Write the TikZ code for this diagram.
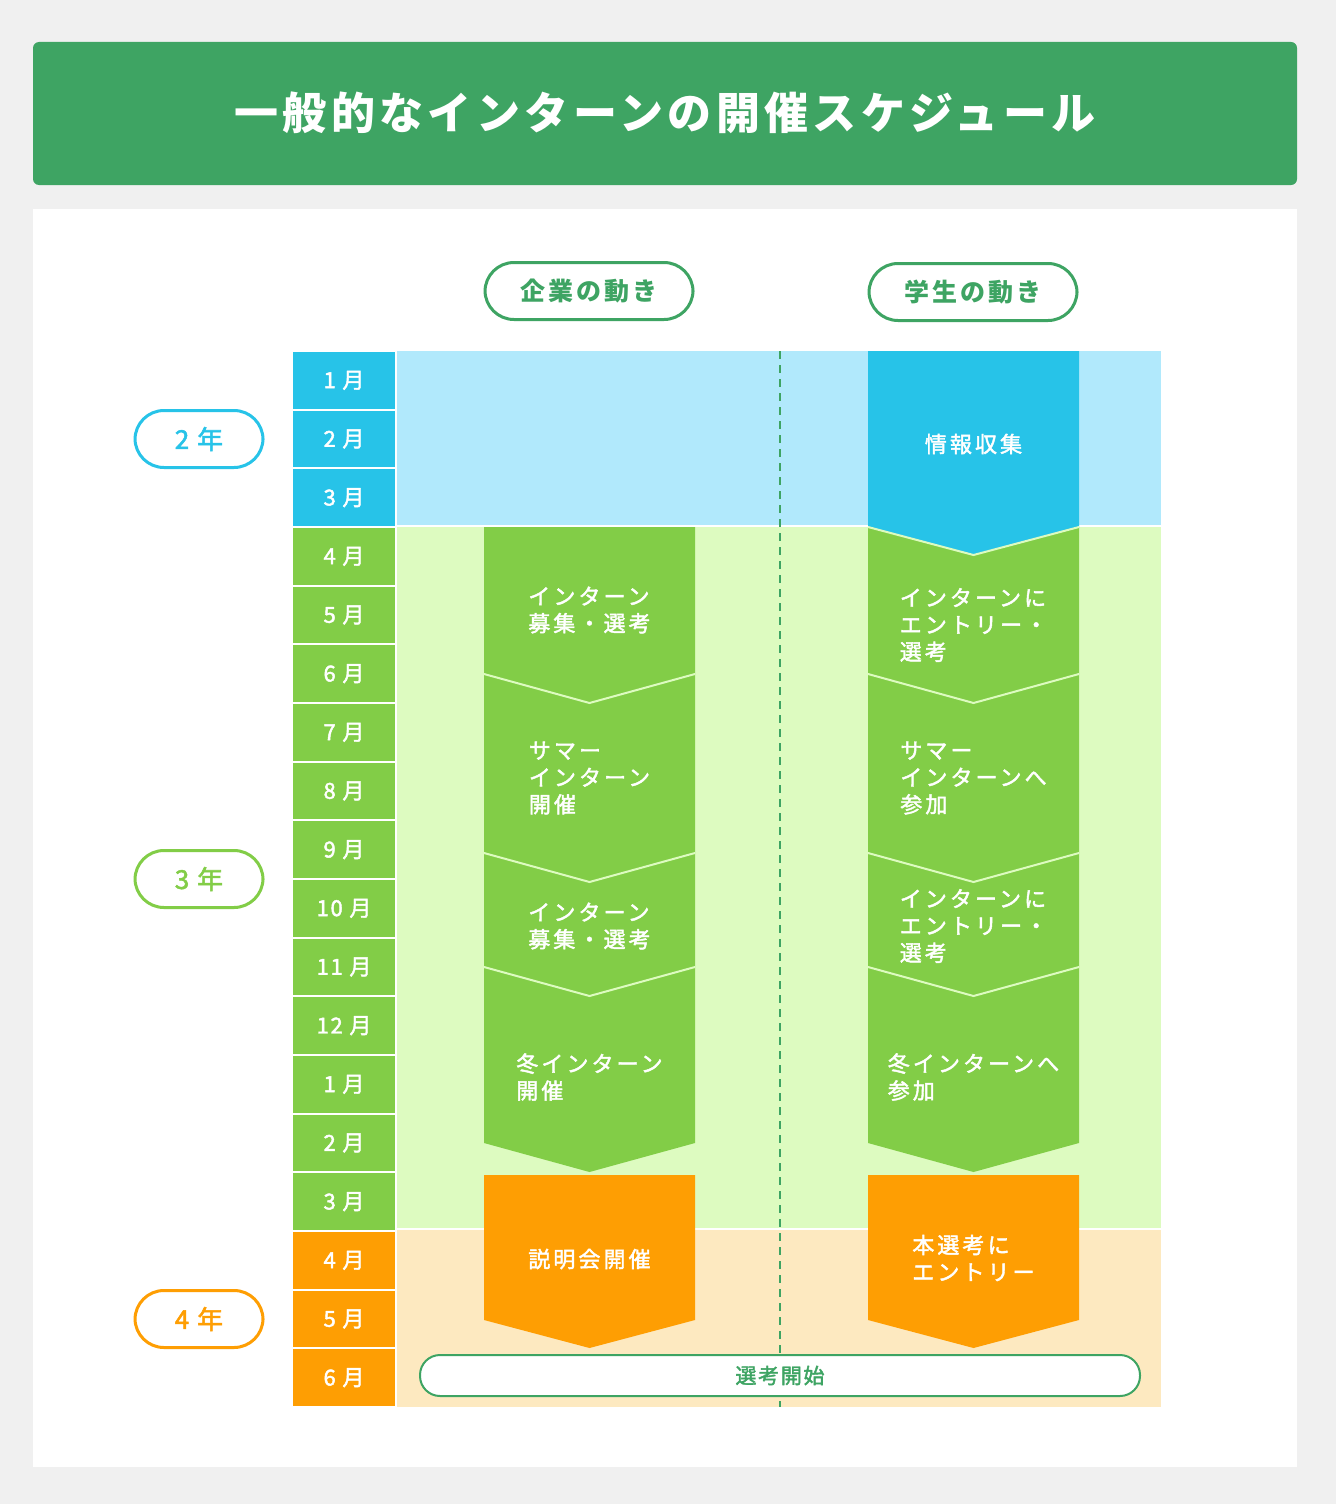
\documentclass[tikz,border=0pt]{standalone}
\usepackage{fontspec}
\setmainfont{Noto Sans CJK JP}
\newfontfamily\jpmed{Noto Sans CJK JP}[FakeBold=2]
\usetikzlibrary{positioning}
\definecolor{bggray}{HTML}{F0F0F0}
\definecolor{hgreen}{HTML}{3EA463}
\definecolor{cblue}{HTML}{27C3E8}
\definecolor{lblue}{HTML}{B1E9FC}
\definecolor{cgreen}{HTML}{82CD47}
\definecolor{lgreen}{HTML}{DDFBC0}
\definecolor{corange}{HTML}{FE9E03}
\definecolor{lorange}{HTML}{FDE9C0}

\begin{document}
\begin{tikzpicture}[x=1pt,y=-1pt,
mon/.style={minimum width=102pt,minimum height=56.7pt,inner sep=0pt,text=white,font=\jpmed\fontsize{22}{26}\selectfont\addfontfeature{LetterSpace=8}},
yr/.style={draw=#1,line width=3pt,fill=white,rounded corners=29pt,minimum width=128pt,minimum height=57pt,inner sep=0pt,text=#1,font=\jpmed\fontsize{26}{30}\selectfont\addfontfeature{LetterSpace=8}},
headpill/.style={draw=hgreen,line width=3pt,fill=white,rounded corners=29pt,minimum width=208pt,minimum height=57pt,inner sep=0pt,text=hgreen,font=\bfseries\fontsize{25}{30}\selectfont\addfontfeature{LetterSpace=12}},
lbl/.style={text=white,align=left,inner sep=0pt,font=\jpmed\fontsize{22}{27}\selectfont\addfontfeature{LetterSpace=14}},
sep/.style={draw=lgreen,line width=2pt}]
\useasboundingbox (0,0) rectangle (1336,1504);
\fill[bggray] (0,0) rectangle (1336,1504);
\fill[hgreen,rounded corners=6pt] (33,42) rectangle (1297,185);
\node[text=white,font=\bfseries\fontsize{44}{50}\selectfont\addfontfeature{LetterSpace=10}] (title) at (665,113) {一般的なインターンの開催スケジュール};
\fill[white] (33,209) rectangle (1297,1467);

\node[headpill] (corp) at (589,291) {企業の動き};
\node[headpill] (stud) at (973,292) {学生の動き};

\fill[lblue] (397,351) rectangle (1161,525);
\fill[lgreen] (397,527) rectangle (1161,1228);
\fill[lorange] (397,1230) rectangle (1161,1407);
\draw[hgreen,line width=2pt,dash pattern=on 8pt off 6pt] (780,351) -- (780,1407);

\node[mon,fill=cblue] (m1) at (344,380.3) {1 月};
\node[mon,fill=cblue] (m2) at (344,439.0) {2 月};
\node[mon,fill=cblue] (m3) at (344,497.7) {3 月};
\node[mon,fill=cgreen] (m4) at (344,556.3) {4 月};
\node[mon,fill=cgreen] (m5) at (344,615.0) {5 月};
\node[mon,fill=cgreen] (m6) at (344,673.7) {6 月};
\node[mon,fill=cgreen] (m7) at (344,732.3) {7 月};
\node[mon,fill=cgreen] (m8) at (344,791.0) {8 月};
\node[mon,fill=cgreen] (m9) at (344,849.7) {9 月};
\node[mon,fill=cgreen] (m10) at (344,908.3) {10 月};
\node[mon,fill=cgreen] (m11) at (344,967.0) {11 月};
\node[mon,fill=cgreen] (m12) at (344,1025.7) {12 月};
\node[mon,fill=cgreen] (m13) at (344,1084.3) {1 月};
\node[mon,fill=cgreen] (m14) at (344,1143.0) {2 月};
\node[mon,fill=cgreen] (m15) at (344,1201.7) {3 月};
\node[mon,fill=corange] (m16) at (344,1260.3) {4 月};
\node[mon,fill=corange] (m17) at (344,1319.0) {5 月};
\node[mon,fill=corange] (m18) at (344,1377.7) {6 月};

\node[yr=cblue] (y2) at (199,439) {2 年};
\node[yr=cgreen] (y3) at (199,879) {3 年};
\node[yr=corange] (y4) at (199,1319) {4 年};

\fill[cgreen] (484,527) -- (695,527) -- (695,1143) -- (589.5,1172) -- (484,1143) -- cycle;
\draw[sep] (484,674) -- (589.5,703) -- (695,674);
\draw[sep] (484,853) -- (589.5,882) -- (695,853);
\draw[sep] (484,967) -- (589.5,996) -- (695,967);
\fill[corange] (484,1175) -- (695,1175) -- (695,1320) -- (589.5,1348) -- (484,1320) -- cycle;

\fill[cgreen] (868,527) -- (1079,527) -- (1079,1143) -- (973.5,1172) -- (868,1143) -- cycle;
\fill[cblue] (868,351) -- (1079,351) -- (1079,527) -- (973.5,555) -- (868,527) -- cycle;
\draw[sep] (868,527) -- (973.5,555) -- (1079,527);
\draw[sep] (868,674) -- (973.5,703) -- (1079,674);
\draw[sep] (868,853) -- (973.5,882) -- (1079,853);
\draw[sep] (868,967) -- (973.5,996) -- (1079,967);
\fill[corange] (868,1175) -- (1079,1175) -- (1079,1320) -- (973.5,1348) -- (868,1320) -- cycle;

\node[lbl] (c1) at (589.5,610) {インターン\\募集・選考};
\node[lbl] (c2) at (589.5,778) {サマー\\インターン\\開催};
\node[lbl] (c3) at (589.5,926) {インターン\\募集・選考};
\node[lbl] (c4) at (589.5,1077) {冬インターン\\開催};
\node[lbl] (c5) at (589.5,1259) {説明会開催};

\node[lbl] (s0) at (973.5,444) {情報収集};
\node[lbl] (s1) at (973.5,625) {インターンに\\エントリー・\\選考};
\node[lbl] (s2) at (973.5,778) {サマー\\インターンへ\\参加};
\node[lbl] (s3) at (973.5,926) {インターンに\\エントリー・\\選考};
\node[lbl] (s4) at (973.5,1077) {冬インターンへ\\参加};
\node[lbl] (s5) at (973.5,1258) {本選考に\\エントリー};

\node[draw=hgreen,line width=2pt,fill=white,rounded corners=20pt,minimum width=720pt,minimum height=41pt,inner sep=0pt,text=hgreen,font=\jpmed\fontsize{21}{25}\selectfont\addfontfeature{LetterSpace=8}] (start) at (780,1375.5) {選考開始};
\end{tikzpicture}
\end{document}
